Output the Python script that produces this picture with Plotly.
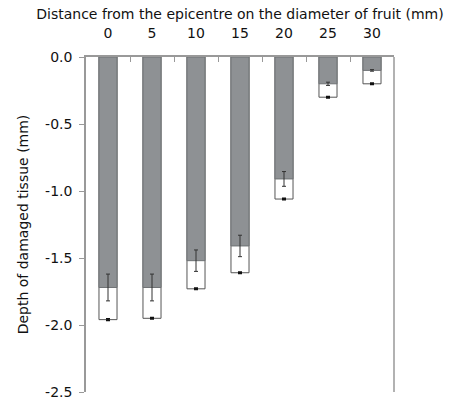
import plotly.graph_objects as go

distance = ["0", "5", "10", "15", "20", "25", "30"]
mean_depth = [-1.72, -1.72, -1.52, -1.41, -0.91, -0.20, -0.10]
mean_err = [0.10, 0.10, 0.08, 0.08, 0.055, 0.012, 0.006]
max_depth = [-1.96, -1.95, -1.73, -1.61, -1.06, -0.30, -0.20]
max_err = [0.006, 0.006, 0.006, 0.006, 0.006, 0.006, 0.006]
y_ticks = [0.0, -0.5, -1.0, -1.5, -2.0, -2.5]
y_ticktext = ["0.0", "-0.5", "-1.0", "-1.5", "-2.0", "-2.5"]

font = "DejaVu Sans"

fig = go.Figure()
fig.add_trace(go.Bar(
    x=distance, y=max_depth, width=0.41,
    marker=dict(color="white", line=dict(color="#555555", width=1)),
    error_y=dict(type="data", array=max_err, symmetric=True, color="#111111", thickness=1.5, width=2),
    showlegend=False,
))
fig.add_trace(go.Bar(
    x=distance, y=mean_depth, width=0.41,
    marker=dict(color="#8e9194", line=dict(color="#6f7275", width=1)),
    error_y=dict(type="data", array=mean_err, symmetric=True, color="#333333", thickness=1, width=2),
    showlegend=False,
))

fig.update_layout(
    width=449, height=405,
    margin=dict(l=86, r=55, t=57, b=13),
    barmode="overlay",
    plot_bgcolor="white", paper_bgcolor="white",
    font=dict(family=font, size=14, color="#111111"),
    xaxis=dict(
        type="category", side="top", automargin=False,
        title=dict(text="Distance from the epicentre on the diameter of fruit (mm)",
                   font=dict(size=14), standoff=2),
        tickson="boundaries", ticks="inside", ticklen=5, tickcolor="#999999",
        ticklabelstandoff=12,
        showline=True, linecolor="#999999", linewidth=1.5, mirror=False,
        showgrid=False, zeroline=False, tickfont=dict(size=14),
    ),
    yaxis=dict(
        range=[-2.5, 0], tickvals=y_ticks, ticktext=y_ticktext, automargin=False,
        ticks="outside", ticklen=5, tickcolor="#999999", ticklabelstandoff=4,
        showline=True, linecolor="#999999", linewidth=1.5,
        showgrid=False, zeroline=False,
        title=dict(text="Depth of damaged tissue (mm)", font=dict(size=14), standoff=13),
        tickfont=dict(size=14),
    ),
    shapes=[dict(type="line", xref="paper", yref="paper", x0=1, x1=1, y0=0, y1=1,
                 line=dict(color="#999999", width=1.5))],
)

fig.write_html("out.html",
               config={"displayModeBar": False},
               post_script="document.body.style.margin='0';document.body.style.overflow='hidden';")
